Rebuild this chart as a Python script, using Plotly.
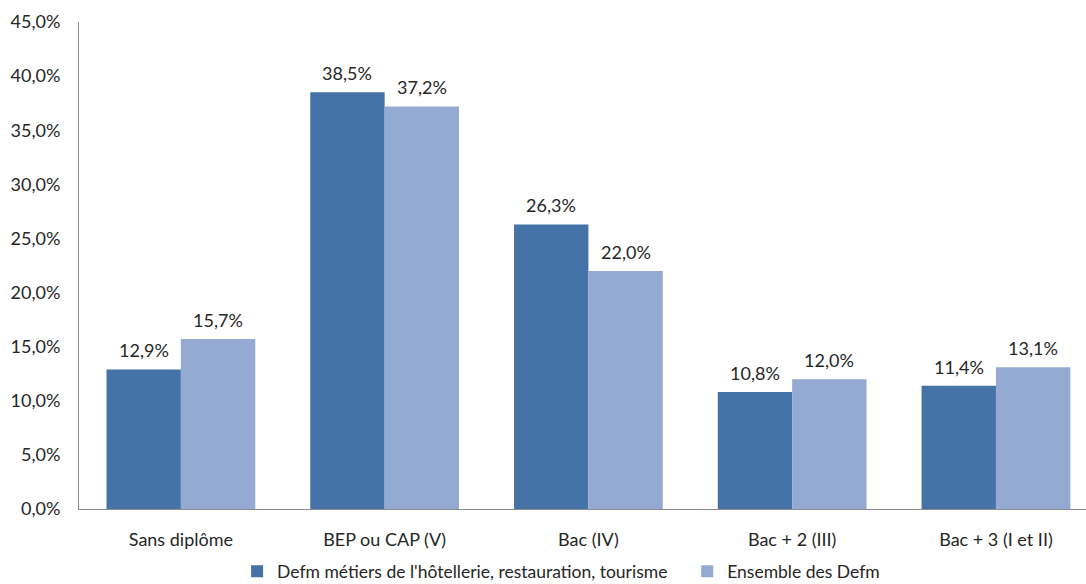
import plotly.graph_objects as go

categories = ["Sans diplôme", "BEP ou CAP (V)", "Bac (IV)", "Bac + 2 (III)", "Bac + 3 (I et II)"]
hotellerie = [12.9, 38.5, 26.3, 10.8, 11.4]
ensemble = [15.7, 37.2, 22.0, 12.0, 13.1]
series_names = ["Defm métiers de l'hôtellerie, restauration, tourisme", "Ensemble des Defm"]
y_ticks = [0, 5, 10, 15, 20, 25, 30, 35, 40, 45]

font_family = "Lato, 'Open Sans', sans-serif"
text_color = "#262626"
colors = ["#4572A7", "#94AAD2"]
bargap = 0.27


def fmt(v):
    return f"{v:.1f}%".replace(".", ",")


fig = go.Figure()
for k, (name, vals, col) in enumerate(zip(series_names, [hotellerie, ensemble], colors)):
    fig.add_trace(go.Bar(
        x=list(range(len(categories))), y=vals, name=name,
        marker=dict(color=col, line=dict(width=0)),
        hoverinfo="y", legend="legend" if k == 0 else "legend2",
    ))

# value labels above each bar
half = (1 - bargap) / 4
annotations = []
for k, vals in enumerate([hotellerie, ensemble]):
    shift = -half if k == 0 else half
    for i, v in enumerate(vals):
        annotations.append(dict(
            x=i + shift, y=v, xref="x", yref="y", text=fmt(v),
            showarrow=False, yanchor="bottom", yshift=6,
            font=dict(size=18, color=text_color, family=font_family),
        ))

legend_style = dict(
    orientation="h", y=-0.128, yanchor="middle", xanchor="left",
    font=dict(size=17.5, color=text_color), itemwidth=30,
    bgcolor="rgba(0,0,0,0)",
)

fig.update_layout(
    width=1086, height=584,
    margin=dict(l=79, r=0, t=22, b=75, autoexpand=False),
    paper_bgcolor="white", plot_bgcolor="white",
    barmode="group", bargap=bargap, bargroupgap=0,
    font=dict(family=font_family, size=18, color=text_color),
    showlegend=True,
    annotations=annotations,
    legend=dict(x=0.157, **legend_style),
    legend2=dict(x=0.604, **legend_style),
    xaxis=dict(
        range=[-0.5, 4.442], showgrid=False, showline=True,
        linecolor="#8c8c8c", linewidth=1,
        tickmode="array", tickvals=list(range(len(categories))), ticktext=categories,
        ticks="outside", ticklen=14, tickcolor="rgba(0,0,0,0)",
        tickfont=dict(size=18, color=text_color),
    ),
    yaxis=dict(
        range=[0, 45], tickmode="array", tickvals=y_ticks,
        ticktext=[fmt(v) for v in y_ticks],
        showgrid=False, showline=True, linecolor="#8c8c8c", linewidth=1,
        ticks="outside", ticklen=14, tickcolor="rgba(0,0,0,0)",
        tickfont=dict(size=18, color=text_color), zeroline=False,
    ),
)

fig.write_html("out.html")
